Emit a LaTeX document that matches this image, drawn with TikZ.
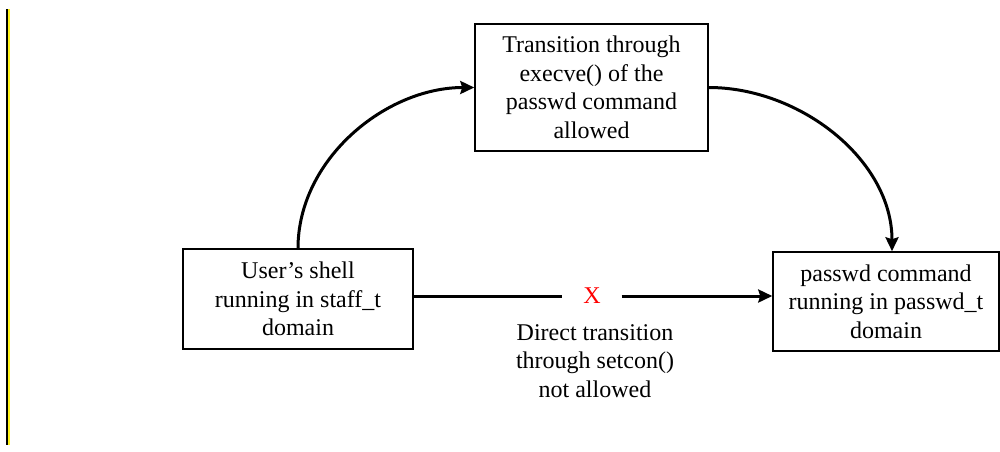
\documentclass[tikz,border=0pt]{standalone}
\usepackage{fontspec}
\setmainfont{Liberation Serif}
\usetikzlibrary{arrows.meta}
\tikzset{
  box/.style={draw=black, line width=1.5pt, rectangle, inner sep=0pt, align=center,
    font=\fontsize{24}{28.5}\selectfont},
  conn/.style={line width=3pt, -{Stealth[length=14pt,width=13pt,inset=2pt]}},
  plain/.style={line width=3pt},
  lbl/.style={align=center, inner sep=0pt, font=\fontsize{24}{28.5}\selectfont},
}
\begin{document}
\begin{tikzpicture}[x=1pt,y=-1pt]
\useasboundingbox (0,0) rectangle (1000,451);
\fill[white] (0,0) rectangle (1000,451);
% left margin bar
\draw[black, line width=2pt] (7,9) -- (7,445);
\draw[yellow!90!white, line width=2pt] (9,9) -- (9,445);
% nodes
\node[box, minimum width=230pt, minimum height=100pt] (user) at (298,299)
  {User's shell\\running in staff\_t\\domain};
\node[box, minimum width=233pt, minimum height=127pt] (trans) at (591.5,87.5)
  {Transition through\\execve() of the\\passwd command\\allowed};
\node[box, minimum width=226pt, minimum height=99pt] (pw) at (886,301.5)
  {passwd command\\running in passwd\_t\\domain};
\node[lbl, text=red, minimum width=59pt] (x) at (592,296) {X};
\node[lbl, anchor=north] (dlbl) at (595,324)
  {Direct transition\\through setcon()\\not allowed};
% connectors
\draw[plain] (user.east |- x) -- (x.west);
\draw[conn] (x.east) -- (pw.west |- x);
\draw[conn] (user.north) to[out=90, in=180, looseness=0.95] (trans.west);
\draw[conn] (trans.east) to[out=0, in=90, looseness=0.95] ([xshift=6pt]pw.north);
\end{tikzpicture}
\end{document}
